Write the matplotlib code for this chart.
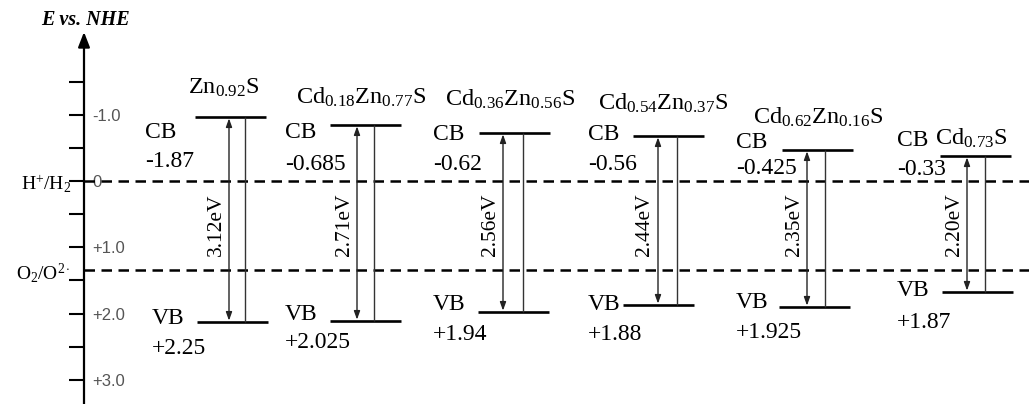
import matplotlib
matplotlib.use("Agg")
import matplotlib.pyplot as plt

plt.rcParams['font.family'] = ['Liberation Serif', 'DejaVu Serif']
plt.rcParams['mathtext.fontset'] = 'custom'
plt.rcParams['mathtext.rm'] = 'Liberation Serif'
plt.rcParams['mathtext.it'] = 'Liberation Serif:italic'
plt.rcParams['mathtext.bf'] = 'Liberation Serif:bold'

# ---------------- data ----------------
materials = [r'Zn$_{\mathrm{0.92}}$S', r'Cd$_{\mathrm{0.18}}$Zn$_{\mathrm{0.77}}$S',
             r'Cd$_{\mathrm{0.36}}$Zn$_{\mathrm{0.56}}$S', r'Cd$_{\mathrm{0.54}}$Zn$_{\mathrm{0.37}}$S',
             r'Cd$_{\mathrm{0.62}}$Zn$_{\mathrm{0.16}}$S', r'Cd$_{\mathrm{0.73}}$S']
cb_values = [-1.87, -0.685, -0.62, -0.56, -0.425, -0.33]     # labelled CB (V vs NHE)
vb_values = [2.25, 2.025, 1.94, 1.88, 1.925, 1.87]           # labelled VB
band_gaps = [3.12, 2.71, 2.56, 2.44, 2.35, 2.20]             # eV
cb_drawn = [-0.965, -0.845, -0.724, -0.679, -0.468, -0.377]  # drawn CB level on axis
vb_drawn = [2.127, 2.112, 1.976, 1.870, 1.900, 1.674]        # drawn VB level on axis
redox_levels = [0.0, 1.34]
redox_labels = [r'H$^{+}$/H$_{2}$', r'O$_{2}$/O$^{2\cdot}$']
major_ticks = [-1.0, 0.0, 1.0, 2.0, 3.0]
major_tick_labels = ['-1.0', '0', '+1.0', '+2.0', '+3.0']
minor_ticks = [-1.5, -0.5, 0.5, 1.5, 2.5]

# ---------------- layout (pixels) ----------------
W, H = 1029, 404
Y0, SC = 181.0, 66.3          # pixel y of E=0, pixels per volt
def E(py):
    return (py - Y0) / SC

AXIS_X = 84
cb_left = [195, 330, 479, 633, 782, 940]
vb_left = [197, 330, 478, 623, 779, 942]
bar_w = 71
arrow_x = [229, 357, 503, 658, 807, 967]
thin_x = [245, 374, 523, 677, 825, 985]
cb_lab_x = [145, 285, 433, 588, 736, 897]
vb_lab_x = [152, 285, 433, 588, 736, 897]
cb_lab_y = [132, 133, 135, 135, 142, 140]
cb_val_y = [162, 165, 165, 165, 169, 170]
vb_lab_y = [319, 315, 305, 305, 302, 290]
vb_val_y = [348, 343, 335, 335, 333, 323]
title_x = [224, 361, 510, 663, 818, 971]
title_y = [88, 97, 99, 103, 117, 138]
FS = 17
FS_T = 17.5
FS_G = 15.5

fig = plt.figure(figsize=(W / 100, H / 100), dpi=100)
ax = fig.add_axes([0, 0, 1, 1])
ax.set_xlim(0, W)
ax.set_ylim(E(H), E(0))

# axis spine with ticks
for s in ['top', 'right', 'bottom']:
    ax.spines[s].set_visible(False)
ax.spines['left'].set_position(('data', AXIS_X))
ax.spines['left'].set_linewidth(1.6)
ax.spines['left'].set_bounds(E(H), E(40))
ax.set_xticks([])
ax.set_yticks(major_ticks)
ax.set_yticklabels(major_tick_labels)
ax.set_yticks(minor_ticks, minor=True)
ax.tick_params(axis='y', which='both', direction='out', length=10.5, width=1.5,
               pad=-16.5, labelsize=12, labelcolor='#555555')
for lab in ax.get_yticklabels():
    lab.set_ha('left')
    lab.set_fontfamily(['Liberation Sans', 'DejaVu Sans'])
ax.annotate('', xy=(AXIS_X, E(32)), xytext=(AXIS_X, E(48)),
            arrowprops=dict(arrowstyle='-|>,head_length=0.9,head_width=0.35',
                            color='black', lw=1.6, shrinkA=0, shrinkB=0))
ax.text(85, E(20), 'E vs. NHE', ha='center', va='center', fontsize=14.5,
        style='italic', fontweight='bold')

# redox levels
for lvl in redox_levels:
    ax.hlines(lvl, AXIS_X, W, colors='black', lw=1.8, linestyles=(0, (4.2, 2.6)))
for lvl, lab, dy in zip(redox_levels, redox_labels, [3, 3]):
    ax.text(71, lvl + dy / SC, lab, ha='right', va='center', fontsize=14)

# bands
for i in range(len(materials)):
    ax.hlines(cb_drawn[i], cb_left[i], cb_left[i] + bar_w, colors='black', lw=1.9)
    ax.hlines(vb_drawn[i], vb_left[i], vb_left[i] + bar_w, colors='black', lw=1.9)
    ax.annotate('', xy=(arrow_x[i], cb_drawn[i]), xytext=(arrow_x[i], vb_drawn[i]),
                arrowprops=dict(arrowstyle='<|-|>,head_length=0.5,head_width=0.18',
                                color='#222222', lw=1.0, shrinkA=1, shrinkB=1))
    ax.vlines(thin_x[i], cb_drawn[i], vb_drawn[i], colors='#333333', lw=1.0)
    ax.text(arrow_x[i] - 13, E(225), f'{band_gaps[i]:.2f}eV', rotation=90,
            ha='center', va='center', fontsize=FS_G)
    ax.text(title_x[i], E(title_y[i]), materials[i], ha='center', va='center', fontsize=FS_T)
    ax.text(cb_lab_x[i], E(cb_lab_y[i]), 'CB', ha='left', va='center', fontsize=FS)
    ax.text(cb_lab_x[i], E(cb_val_y[i]), f'{cb_values[i]:g}', ha='left', va='center', fontsize=FS)
    ax.text(vb_lab_x[i], E(vb_lab_y[i]), 'VB', ha='left', va='center', fontsize=FS)
    ax.text(vb_lab_x[i], E(vb_val_y[i]), f'+{vb_values[i]:g}', ha='left', va='center', fontsize=FS)

fig.savefig('out.png', dpi=100)
